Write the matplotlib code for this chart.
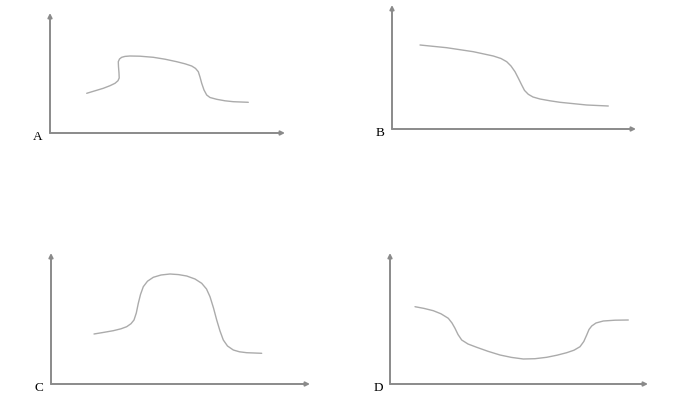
import matplotlib

matplotlib.use("Agg")
import matplotlib.pyplot as plt


FIG_W, FIG_H = 676, 409

# curve points (pixels from each panel's origin)
curve_a_x = [36.7, 45, 53.3, 60, 65, 68, 69.2, 69, 68.5, 68.3, 69.5, 71.7, 75, 80, 90,
             103.3, 115, 126.7, 135, 141.7, 145.5, 148.3, 150, 151.7, 154, 156.7, 160,
             166.7, 175, 183.3, 198.3]
curve_a_y = [39.7, 42.2, 44.7, 47.3, 49.7, 52.3, 55, 60, 66.3, 71.3, 74, 75.7, 76.6, 77,
             76.8, 75.7, 73.8, 71.3, 69.2, 67, 64.6, 61.3, 56, 49.7, 43, 38, 35.5,
             33.7, 32.2, 31.3, 30.7]

curve_b_x = [28, 54.7, 81.3, 101.3, 109, 114.7, 119, 123, 126.5, 129.7, 132.5, 136.3,
             141, 148, 158, 168, 194.7, 216.3]
curve_b_y = [84, 81.3, 77.3, 73, 70.5, 67.3, 63, 57.3, 50.5, 44, 38.6, 34.7, 32,
             30, 28.2, 26.7, 24, 23]

curve_c_x = [43, 52, 62.3, 70, 75.7, 80, 83, 85.3, 87.3, 89.5, 92.3, 96.5, 102.3,
             110, 119, 127.5, 135.7, 144, 150.7, 155.5, 159, 162.5, 165.7, 169,
             172.3, 176.5, 182.3, 188.5, 195.7, 210.7]
curve_c_y = [50, 51.5, 53.3, 55.2, 57.3, 60.3, 64, 71, 80.7, 89.5, 97.3, 102.8,
             106.7, 109, 110, 109.4, 108, 105, 100.7, 95, 87.3, 76, 64, 53,
             44, 38, 34, 32.2, 31.3, 30.7]

curve_d_x = [25, 34, 43.3, 51, 58.3, 62, 65, 68, 71.7, 78, 86.7, 98, 110, 121.5,
             133.3, 145, 156.7, 167, 176.7, 184, 190, 193.8, 196.7, 199, 201.7,
             206, 213.3, 225, 238.3]
curve_d_y = [77.3, 75.6, 73.3, 70.2, 65.7, 61, 55.7, 49.5, 44, 40, 36.7, 32.7,
             29, 26.6, 25, 25.3, 26.7, 28.8, 31.3, 33.8, 37.3, 42.5, 49, 54.5,
             58, 61, 63, 63.8, 64]

panel_labels = ["A", "B", "C", "D"]

# origin (x, y in image pixels), x axis end, y axis top
PANELS = [
    (50, 133, 285, 13),
    (392, 129, 636, 5),
    (51, 384, 310, 253),
    (390, 384, 648, 253),
]

AXIS_COLOR = "#8a8a8a"
CURVE_COLOR = "#ababab"


def draw_panel(fig, box, xs, ys, label):
    ox, oy, x_end, y_top = box
    w = x_end - ox
    h = oy - y_top
    ax = fig.add_axes([ox / FIG_W, (FIG_H - oy) / FIG_H, w / FIG_W, h / FIG_H])
    ax.set_xlim(0, w)
    ax.set_ylim(0, h)
    ax.axis("off")

    arrow = dict(arrowstyle="-|>", color=AXIS_COLOR, lw=1.4,
                 shrinkA=0, shrinkB=0, mutation_scale=6)
    ax.annotate("", xy=(w, 0), xytext=(0, 0), arrowprops=arrow,
                annotation_clip=False)
    ax.annotate("", xy=(0, h), xytext=(0, 0), arrowprops=arrow,
                annotation_clip=False)

    ax.plot(xs, ys, color=CURVE_COLOR, lw=1.0, solid_joinstyle="round",
            solid_capstyle="round", clip_on=False)

    ax.text(-12, -4, label, ha="center", va="center", fontsize=9.5,
            family="Liberation Serif", color="black", clip_on=False)


def main():
    fig = plt.figure(figsize=(FIG_W / 100, FIG_H / 100), dpi=100)
    fig.patch.set_facecolor("white")

    curves = [
        (curve_a_x, curve_a_y),
        (curve_b_x, curve_b_y),
        (curve_c_x, curve_c_y),
        (curve_d_x, curve_d_y),
    ]
    for box, (xs, ys), label in zip(PANELS, curves, panel_labels):
        draw_panel(fig, box, xs, ys, label)

    fig.savefig("out.png", dpi=100, facecolor="white")
    plt.close(fig)


if __name__ == "__main__":
    main()
